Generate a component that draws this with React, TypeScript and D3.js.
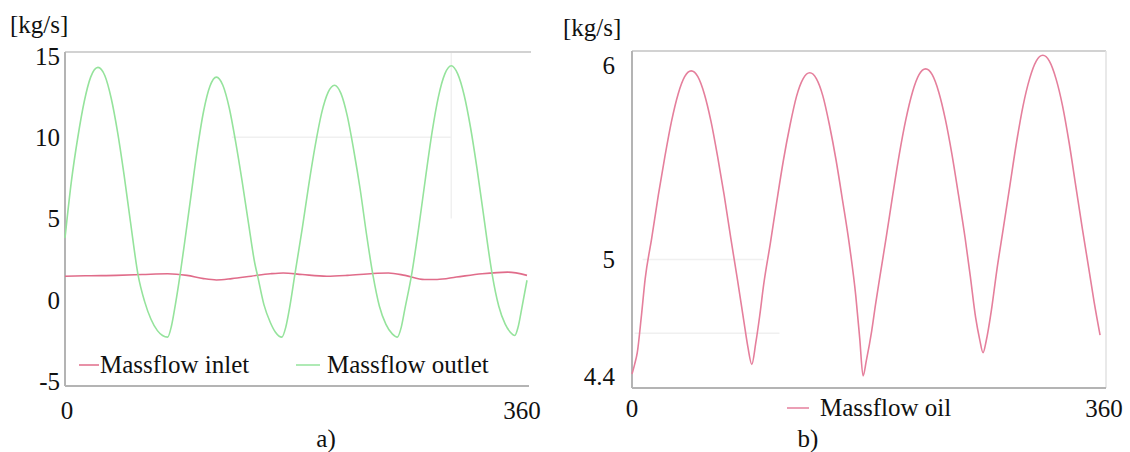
import React from "react";
import * as d3 from "d3";

// ---------- data ----------
const xTicks = [0, 360];
const yTicksA = [15, 10, 5, 0, -5];
const yTicksB = [6, 5, 4.4];
const yTickLabelsB = ["6", "5", "4.4"];

// Massflow outlet [deg, kg/s]
const outletPoints: [number, number][] = [
  [0, 3.8], [5, 7.3], [10, 10.0], [15, 12.2], [20, 13.7], [25.7, 14.3], [31, 13.8], [36, 12.4],
  [41, 10.3], [46, 7.7], [51, 4.8], [57, 1.5], [62, -0.1], [67, -1.2], [72, -1.9], [76, -2.2],
  [80, -2.3], [83, -1.6], [86, -0.3], [89.6, 1.5], [93, 3.4], [98, 6.3], [103, 9.2], [108, 11.6],
  [113, 13.15], [118, 13.7], [123, 13.2], [128, 11.8], [133, 9.7], [138, 7.3], [143, 4.7], [148, 2.2],
  [150, 1.5], [155, -0.3], [160, -1.4], [164, -2.0], [169, -2.3], [172, -1.7], [175, -0.5], [179, 1.5],
  [185, 4.45], [190, 7.1], [195, 9.5], [200, 11.5], [205, 12.76], [210, 13.2], [215, 12.7], [220, 11.3],
  [225, 9.2], [230, 6.8], [235, 4.0], [240, 1.5], [245, -0.4], [250, -1.5], [255, -2.1], [259, -2.3],
  [262, -1.7], [265, -0.5], [270, 1.5], [276, 4.65], [281, 7.55], [286, 10.3], [291, 12.5], [296, 13.9],
  [301, 14.4], [306, 13.9], [311, 12.6], [316, 10.6], [321, 8.1], [326, 5.3], [331, 2.5], [333, 1.5],
  [338, -0.4], [343, -1.5], [347, -2.0], [350.5, -2.2], [353, -1.7], [356, -0.5], [360, 1.2],
];

// Massflow inlet [deg, kg/s]
const inletPoints: [number, number][] = [
  [0, 1.45], [20, 1.48], [40, 1.5], [60, 1.55], [80, 1.6], [95, 1.5], [108, 1.3], [118, 1.22],
  [130, 1.3], [145, 1.45], [160, 1.6], [170, 1.65], [185, 1.55], [204, 1.45], [220, 1.5], [240, 1.62],
  [252, 1.65], [265, 1.5], [280, 1.25], [290, 1.25], [305, 1.4], [325, 1.6], [345, 1.7], [360, 1.5],
];

// Massflow oil [deg, kg/s]
const oilPoints: [number, number][] = [
  [0, 4.41], [2, 4.46], [4, 4.52], [7, 4.7], [10, 4.9], [15, 5.11], [20, 5.33], [25, 5.53],
  [30, 5.71], [35, 5.85], [40, 5.94], [45, 5.97], [50, 5.94], [55, 5.85], [60, 5.71], [65, 5.53],
  [70, 5.33], [75, 5.11], [80, 4.9], [85, 4.68], [88, 4.55], [91, 4.46], [94, 4.57], [97, 4.71],
  [100, 4.87], [105, 5.08], [110, 5.3], [115, 5.51], [120, 5.69], [125, 5.84], [130, 5.93], [135, 5.96],
  [140, 5.93], [145, 5.84], [150, 5.69], [155, 5.51], [160, 5.3], [165, 5.08], [170, 4.81], [173, 4.59],
  [175.5, 4.4], [178, 4.48], [182, 4.63], [185, 4.77], [188, 4.9], [193, 5.11], [198, 5.33], [203, 5.54],
  [208, 5.72], [213, 5.86], [218, 5.95], [223, 5.98], [228, 5.95], [233, 5.86], [238, 5.72], [243, 5.54],
  [248, 5.33], [253, 5.11], [257, 4.91], [261, 4.7], [264, 4.59], [266.6, 4.52], [269, 4.58], [273, 4.74],
  [277, 4.94], [282, 5.16], [287, 5.38], [292, 5.6], [297, 5.79], [302, 5.93], [307, 6.02], [312, 6.05],
  [317, 6.02], [322, 5.93], [327, 5.79], [332, 5.6], [337, 5.38], [342, 5.16], [347, 4.95], [351, 4.78],
  [355.5, 4.61],
];

const legendA = ["Massflow inlet", "Massflow outlet"];
const legendB = ["Massflow oil"];

// ---------- styles ----------
const FONT =
  '"Liberation Serif", "Times New Roman", Times, Tinos, "Nimbus Roman", FreeSerif, "DejaVu Serif", "Noto Serif", Georgia, serif';
const FS = 25;
const GREEN = "#95e39c";
const RED = "#e06c8a";
const PINK = "#e57f9c";
const AXIS = "#b4b4b4";
const FRAME = "#d2d2d2";
const GRID = "#f0f0f0";
const TXT: React.CSSProperties = { fontFamily: FONT, fontSize: FS };

export default function App() {
  // panel a
  const xA = d3.scaleLinear().domain([0, 360]).range([65, 527]);
  const yA = d3.scaleLinear().domain([-5, 15]).range([381, 56]);
  // panel b
  const xB = d3.scaleLinear().domain([0, 360]).range([632, 1106]);
  const yB = d3.scaleLinear().domain([4.4, 6]).range([376, 65]);

  const lineA = d3
    .line<[number, number]>()
    .x((d) => xA(d[0]))
    .y((d) => yA(d[1]))
    .curve(d3.curveMonotoneX);
  const lineB = d3
    .line<[number, number]>()
    .x((d) => xB(d[0]))
    .y((d) => yB(d[1]))
    .curve(d3.curveMonotoneX);

  const aTop = 52, aBot = 386;
  const bTop = 51, bBot = 388;

  return (
    <svg
      width={1130}
      height={452}
      style={{ position: "absolute", left: 0, top: 0, background: "#fff", fontFamily: FONT }}
    >
      <rect x={0} y={0} width={1130} height={452} fill="#fff" />

      {/* ---------- Panel a ---------- */}
      <line x1={xA(130)} x2={xA(301)} y1={yA(10)} y2={yA(10)} stroke={GRID} strokeWidth={1.5} />
      <line x1={xA(301)} x2={xA(301)} y1={aTop} y2={yA(5)} stroke={GRID} strokeWidth={1.5} />
      <line x1={xA(0)} x2={xA(360) + 4} y1={aTop} y2={aTop} stroke={FRAME} strokeWidth={2} />
      <line x1={xA(0)} x2={xA(0)} y1={aTop} y2={aBot} stroke={AXIS} strokeWidth={2} />
      <line x1={xA(0)} x2={xA(360) + 2} y1={aBot} y2={aBot} stroke={AXIS} strokeWidth={2} />

      <path d={lineA(inletPoints) || ""} fill="none" stroke={RED} strokeWidth={1.6} />
      <path d={lineA(outletPoints) || ""} fill="none" stroke={GREEN} strokeWidth={1.6} />

      {yTicksA.map((t) => (
        <text key={t} x={60} y={yA(t)} dy="0.35em" textAnchor="end" style={TXT} fill="#111">
          {t}
        </text>
      ))}
      {xTicks.map((t, i) => (
        <text key={t} x={i === 0 ? xA(t) + 2 : xA(t) - 5} y={410} dy="0.35em" textAnchor="middle" style={TXT} fill="#111">
          {t}
        </text>
      ))}
      <text x={10} y={24} dy="0.35em" style={TXT} fill="#111">[kg/s]</text>

      {/* legend a */}
      <line x1={79} x2={99} y1={365} y2={365} stroke={RED} strokeWidth={1.5} />
      <text x={100} y={365} dy="0.33em" style={TXT} fill="#111">{legendA[0]}</text>
      <line x1={296} x2={320} y1={365} y2={365} stroke={GREEN} strokeWidth={1.5} />
      <text x={327} y={365} dy="0.33em" style={TXT} fill="#111">{legendA[1]}</text>

      <text x={326} y={438} dy="0.35em" textAnchor="middle" style={TXT} fill="#111">a)</text>

      {/* ---------- Panel b ---------- */}
      <line x1={xB(8)} x2={xB(100)} y1={yB(5)} y2={yB(5)} stroke={GRID} strokeWidth={1.5} />
      <line x1={xB(2)} x2={xB(112)} y1={yB(4.62)} y2={yB(4.62)} stroke={GRID} strokeWidth={1.5} />
      <line x1={xB(0)} x2={xB(360)} y1={bTop} y2={bTop} stroke={FRAME} strokeWidth={2} />
      <line x1={xB(360)} x2={xB(360)} y1={bTop} y2={bBot} stroke={"#e2e2e2"} strokeWidth={1.5} />
      <line x1={xB(0)} x2={xB(0)} y1={bTop} y2={bBot} stroke={AXIS} strokeWidth={2} />
      <line x1={xB(0)} x2={xB(360)} y1={bBot} y2={bBot} stroke={AXIS} strokeWidth={2} />

      <path d={lineB(oilPoints) || ""} fill="none" stroke={PINK} strokeWidth={1.6} />

      {yTicksB.map((t, i) => (
        <text key={t} x={615} y={yB(t)} dy="0.35em" textAnchor="end" style={TXT} fill="#111">
          {yTickLabelsB[i]}
        </text>
      ))}
      {xTicks.map((t, i) => (
        <text key={t} x={i === 0 ? xB(t) : xB(t) - 2} y={408} dy="0.35em" textAnchor="middle" style={TXT} fill="#111">
          {t}
        </text>
      ))}
      <text x={563} y={27} dy="0.35em" style={TXT} fill="#111">[kg/s]</text>

      {/* legend b */}
      <line x1={787} x2={809} y1={408} y2={408} stroke={PINK} strokeWidth={1.5} />
      <text x={820} y={408} dy="0.33em" style={TXT} fill="#111">{legendB[0]}</text>

      <text x={808} y={438} dy="0.35em" textAnchor="middle" style={TXT} fill="#111">b)</text>
    </svg>
  );
}
